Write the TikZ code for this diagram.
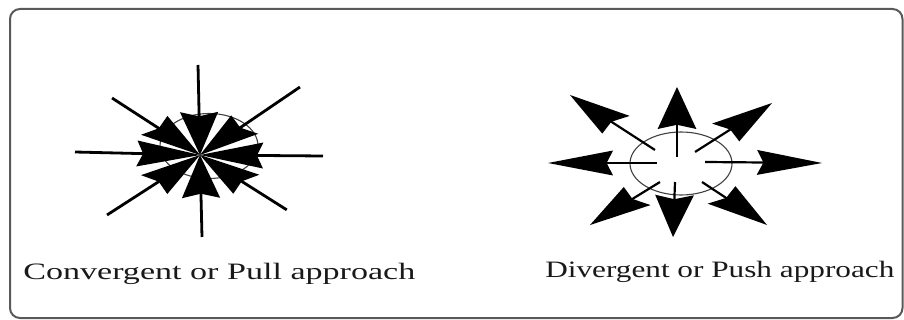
\documentclass[tikz,border=0pt]{standalone}
\usepackage{fontspec}
\setmainfont{Liberation Serif}
\newcommand\hl{42}
\newcommand\hw{12}
% #1,#2 outer/start point; #3,#4 tip; #5 horizontal stretch; #6 shaft width
\newcommand\arrw[6]{%
  \pgfmathsetmacro\adx{(#1-#3)/#5}%
  \pgfmathsetmacro\ady{-(#2-#4)}%
  \pgfmathsetmacro\aang{atan2(\ady,\adx)}%
  \pgfmathsetmacro\alen{veclen(\adx,\ady)}%
  \begin{scope}[shift={(#3,#4)},xscale=#5,rotate=\aang]
    \draw[shaft,line width=#6] (0.85*\hl,0) -- (\alen,0);
    \fill[headfill] (0,0) -- (\hl,\hw) -- (0.9*\hl,0) -- (\hl,-\hw) -- cycle;
  \end{scope}}
\tikzset{
  shaft/.style={draw=black},
  headfill/.style={fill=black},
  ring/.style={draw=black!75,line width=1.1pt},
  frame/.style={draw=black!65,line width=2pt,rounded corners=10pt},
  caption/.style={font=\fontsize{23.5}{26}\selectfont,text=black!90,inner sep=0pt,anchor=base west}
}
\begin{document}
\begin{tikzpicture}[x=1pt,y=-1pt]
\useasboundingbox (0,0) rectangle (904,320);
\draw[frame] (10,9) rectangle (902.5,318);
% convergent
\draw[ring] (209,146) ellipse [x radius=49, y radius=32.5];
\renewcommand\hl{43}\renewcommand\hw{13}
\arrw{198}{65}{200}{155}{1.47}{2.8pt}
\arrw{202}{237}{200}{155}{1.47}{2.8pt}
\arrw{75}{152}{200}{155}{1.47}{2.8pt}
\arrw{323}{156}{200}{155}{1.47}{2.8pt}
\arrw{112}{98}{200}{155}{1.47}{2.8pt}
\arrw{300}{87}{200}{155}{1.47}{2.8pt}
\arrw{107}{215}{200}{155}{1.47}{2.8pt}
\arrw{287}{210}{200}{155}{1.47}{2.8pt}
% divergent
\draw[ring] (681,163.5) ellipse [x radius=51, y radius=31.5];
\renewcommand\hl{42}\renewcommand\hw{12.5}
\arrw{677}{157}{677}{87}{1.55}{2.2pt}
\arrw{675}{182}{673}{237}{1.55}{2.2pt}
\arrw{657}{163}{548}{163}{1.55}{2.2pt}
\arrw{705}{162}{822}{163}{1.55}{2.2pt}
\arrw{655}{150}{570}{95}{1.55}{2.2pt}
\arrw{695}{152}{772}{103}{1.55}{2.2pt}
\arrw{660}{182}{590}{225}{1.55}{2.2pt}
\arrw{702}{182}{767}{225}{1.55}{2.2pt}
% captions
\node[caption,xscale=1.45] (pull) at (23,279) {Convergent or Pull approach};
\node[caption,xscale=1.33] (push) at (545,277) {Divergent or Push approach};
\end{tikzpicture}
\end{document}
